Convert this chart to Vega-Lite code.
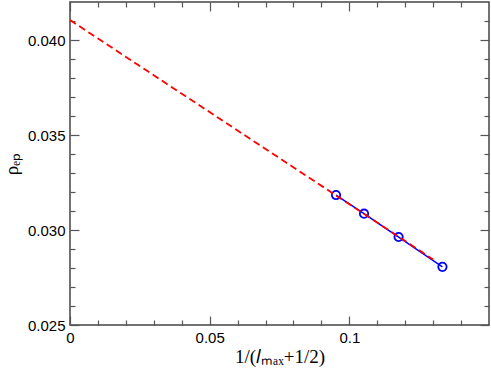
{
  "$schema": "https://vega.github.io/schema/vega-lite/v6.json",
  "width": 419,
  "height": 323,
  "autosize": {"type": "none"},
  "padding": {"left": 70, "top": 2, "right": 2, "bottom": 44},
  "background": "white",
  "config": {
    "view": {"stroke": "#444", "strokeWidth": 1.5},
    "axis": {
      "grid": false,
      "domain": false,
      "tickColor": "#555",
      "tickWidth": 1.2,
      "labelFont": "Liberation Sans",
      "labelFontSize": 15,
      "labelColor": "black",
      "titleFont": "Liberation Serif",
      "titleFontSize": 19,
      "titleFontWeight": "normal",
      "titleColor": "black"
    }
  },
  "datasets": {
    "pts": [
      {"x": 0.095238, "y": 0.03184},
      {"x": 0.105263, "y": 0.03086},
      {"x": 0.117647, "y": 0.02963},
      {"x": 0.133333, "y": 0.02806}
    ],
    "fit": [
      {"x": 0.0, "y": 0.04105},
      {"x": 0.13, "y": 0.02845}
    ]
  },
  "resolve": {"axis": {"x": "independent", "y": "independent"}, "scale": {"x": "shared", "y": "shared"}},
  "layer": [
    {
      "data": {"name": "pts"},
      "mark": {"type": "line", "color": "#0000ff", "strokeWidth": 1.5, "clip": true},
      "encoding": {
        "x": {"field": "x", "type": "quantitative",
              "scale": {"domain": [0, 0.15], "nice": false, "zero": false},
              "axis": {"orient": "bottom", "values": [0, 0.05, 0.1], "tickSize": -9, "labelPadding": 14,
                       "labelExpr": "toString(datum.value)", "labelFlush": false,
                       "title": "1/(𝑙ₘₐₓ+1/2)", "titlePadding": 2}},
        "y": {"field": "y", "type": "quantitative",
              "scale": {"domain": [0.025, 0.042], "nice": false, "zero": false},
              "axis": {"orient": "left", "values": [0.025, 0.03, 0.035, 0.04], "tickSize": -9, "labelPadding": 14,
                       "format": ".3f", "labelFlush": false,
                       "title": "ρₑₚ", "titlePadding": 6}}
      }
    },
    {
      "data": {"name": "pts"},
      "mark": {"type": "point", "shape": "circle", "filled": false, "color": "#0000ff", "size": 70, "strokeWidth": 1.8, "opacity": 1},
      "encoding": {
        "x": {"field": "x", "type": "quantitative",
              "axis": {"orient": "bottom", "values": [0.01, 0.02, 0.03, 0.04, 0.06, 0.07, 0.08, 0.09, 0.11, 0.12, 0.13, 0.14],
                       "tickSize": -5, "labels": false, "title": null}},
        "y": {"field": "y", "type": "quantitative",
              "axis": {"orient": "left", "values": [0.026, 0.027, 0.028, 0.029, 0.031, 0.032, 0.033, 0.034, 0.036, 0.037, 0.038, 0.039, 0.041],
                       "tickSize": -5, "labels": false, "title": null}}
      }
    },
    {
      "data": {"name": "fit"},
      "mark": {"type": "line", "color": "#ff0000", "strokeWidth": 1.8, "strokeDash": [7, 4]},
      "encoding": {
        "x": {"field": "x", "type": "quantitative",
              "axis": {"orient": "top", "values": [0, 0.05, 0.1], "tickSize": -9, "labels": false, "title": null}},
        "y": {"field": "y", "type": "quantitative",
              "axis": {"orient": "right", "values": [0.025, 0.03, 0.035, 0.04], "tickSize": -9, "labels": false, "title": null}}
      }
    },
    {
      "data": {"name": "fit"},
      "mark": {"type": "point", "opacity": 0},
      "encoding": {
        "x": {"field": "x", "type": "quantitative",
              "axis": {"orient": "top", "values": [0.01, 0.02, 0.03, 0.04, 0.06, 0.07, 0.08, 0.09, 0.11, 0.12, 0.13, 0.14],
                       "tickSize": -5, "labels": false, "title": null}},
        "y": {"field": "y", "type": "quantitative",
              "axis": {"orient": "right", "values": [0.026, 0.027, 0.028, 0.029, 0.031, 0.032, 0.033, 0.034, 0.036, 0.037, 0.038, 0.039, 0.041],
                       "tickSize": -5, "labels": false, "title": null}}
      }
    }
  ]
}
